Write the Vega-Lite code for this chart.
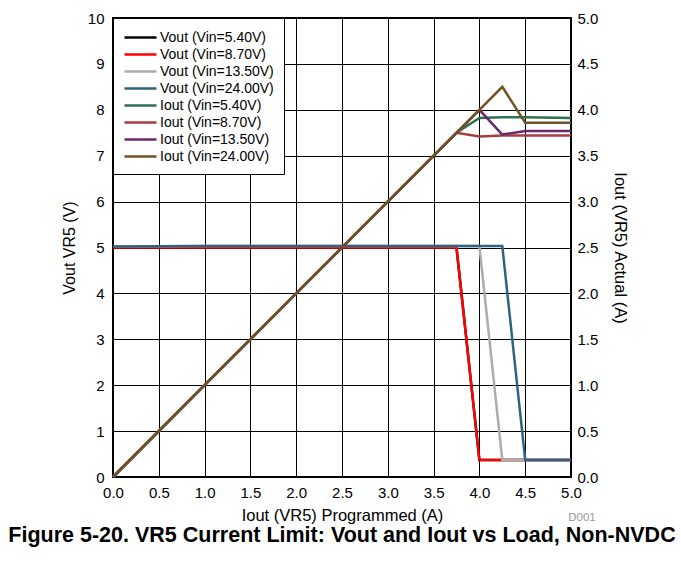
{
  "$schema": "https://vega.github.io/schema/vega-lite/v6.json",
  "width": 458,
  "height": 459,
  "autosize": {"type": "none"},
  "padding": {"left": 113, "top": 18, "right": 110, "bottom": 102},
  "background": "white",
  "config": {
    "font": "Liberation Sans",
    "view": {"stroke": "black", "strokeWidth": 2},
    "axis": {
      "grid": true, "gridColor": "black", "gridOpacity": 1, "gridWidth": 1,
      "domain": false, "ticks": false, "labelFlush": false,
      "labelFontSize": 15, "titleFontSize": 16.5,
      "labelColor": "black", "titleColor": "black", "titleFontWeight": "normal"
    },
    "line": {"strokeWidth": 2.5}
  },
  "title": {
    "text": "Figure 5-20. VR5 Current Limit: Vout and Iout vs Load, Non-NVDC",
    "orient": "bottom", "anchor": "middle", "fontSize": 21.5, "fontWeight": "bold",
    "offset": 1, "color": "black"
  },
  "datasets": {
    "v540": [
      {"x": 0, "v": 5.0, "series": "Vout (Vin=5.40V)"},
      {"x": 1, "v": 5.0, "series": "Vout (Vin=5.40V)"},
      {"x": 2, "v": 5.0, "series": "Vout (Vin=5.40V)"},
      {"x": 3, "v": 5.0, "series": "Vout (Vin=5.40V)"},
      {"x": 3.75, "v": 5.0, "series": "Vout (Vin=5.40V)"},
      {"x": 4.0, "v": 0.37, "series": "Vout (Vin=5.40V)"},
      {"x": 4.5, "v": 0.37, "series": "Vout (Vin=5.40V)"},
      {"x": 5.0, "v": 0.37, "series": "Vout (Vin=5.40V)"}
    ],
    "v870": [
      {"x": 0, "v": 5.0, "series": "Vout (Vin=8.70V)"},
      {"x": 1, "v": 5.0, "series": "Vout (Vin=8.70V)"},
      {"x": 2, "v": 5.0, "series": "Vout (Vin=8.70V)"},
      {"x": 3, "v": 5.0, "series": "Vout (Vin=8.70V)"},
      {"x": 3.75, "v": 5.0, "series": "Vout (Vin=8.70V)"},
      {"x": 4.0, "v": 0.37, "series": "Vout (Vin=8.70V)"},
      {"x": 4.5, "v": 0.37, "series": "Vout (Vin=8.70V)"},
      {"x": 5.0, "v": 0.37, "series": "Vout (Vin=8.70V)"}
    ],
    "v1350": [
      {"x": 0, "v": 5.02, "series": "Vout (Vin=13.50V)"},
      {"x": 1, "v": 5.03, "series": "Vout (Vin=13.50V)"},
      {"x": 2, "v": 5.03, "series": "Vout (Vin=13.50V)"},
      {"x": 3, "v": 5.03, "series": "Vout (Vin=13.50V)"},
      {"x": 4.0, "v": 5.03, "series": "Vout (Vin=13.50V)"},
      {"x": 4.25, "v": 0.37, "series": "Vout (Vin=13.50V)"},
      {"x": 4.5, "v": 0.37, "series": "Vout (Vin=13.50V)"},
      {"x": 5.0, "v": 0.37, "series": "Vout (Vin=13.50V)"}
    ],
    "v2400": [
      {"x": 0, "v": 5.02, "series": "Vout (Vin=24.00V)"},
      {"x": 1, "v": 5.03, "series": "Vout (Vin=24.00V)"},
      {"x": 2, "v": 5.03, "series": "Vout (Vin=24.00V)"},
      {"x": 3, "v": 5.03, "series": "Vout (Vin=24.00V)"},
      {"x": 4.0, "v": 5.03, "series": "Vout (Vin=24.00V)"},
      {"x": 4.25, "v": 5.03, "series": "Vout (Vin=24.00V)"},
      {"x": 4.5, "v": 0.37, "series": "Vout (Vin=24.00V)"},
      {"x": 5.0, "v": 0.37, "series": "Vout (Vin=24.00V)"}
    ],
    "i540": [
      {"x": 0, "i": 0, "series": "Iout (Vin=5.40V)"},
      {"x": 1, "i": 1, "series": "Iout (Vin=5.40V)"},
      {"x": 2, "i": 2, "series": "Iout (Vin=5.40V)"},
      {"x": 3, "i": 3, "series": "Iout (Vin=5.40V)"},
      {"x": 3.75, "i": 3.75, "series": "Iout (Vin=5.40V)"},
      {"x": 4.0, "i": 3.91, "series": "Iout (Vin=5.40V)"},
      {"x": 4.25, "i": 3.92, "series": "Iout (Vin=5.40V)"},
      {"x": 4.5, "i": 3.92, "series": "Iout (Vin=5.40V)"},
      {"x": 5.0, "i": 3.91, "series": "Iout (Vin=5.40V)"}
    ],
    "i870": [
      {"x": 0, "i": 0, "series": "Iout (Vin=8.70V)"},
      {"x": 1, "i": 1, "series": "Iout (Vin=8.70V)"},
      {"x": 2, "i": 2, "series": "Iout (Vin=8.70V)"},
      {"x": 3, "i": 3, "series": "Iout (Vin=8.70V)"},
      {"x": 3.75, "i": 3.75, "series": "Iout (Vin=8.70V)"},
      {"x": 4.0, "i": 3.71, "series": "Iout (Vin=8.70V)"},
      {"x": 4.25, "i": 3.72, "series": "Iout (Vin=8.70V)"},
      {"x": 4.5, "i": 3.72, "series": "Iout (Vin=8.70V)"},
      {"x": 5.0, "i": 3.72, "series": "Iout (Vin=8.70V)"}
    ],
    "i1350": [
      {"x": 0, "i": 0, "series": "Iout (Vin=13.50V)"},
      {"x": 1, "i": 1, "series": "Iout (Vin=13.50V)"},
      {"x": 2, "i": 2, "series": "Iout (Vin=13.50V)"},
      {"x": 3, "i": 3, "series": "Iout (Vin=13.50V)"},
      {"x": 4.0, "i": 4.0, "series": "Iout (Vin=13.50V)"},
      {"x": 4.25, "i": 3.73, "series": "Iout (Vin=13.50V)"},
      {"x": 4.5, "i": 3.77, "series": "Iout (Vin=13.50V)"},
      {"x": 5.0, "i": 3.77, "series": "Iout (Vin=13.50V)"}
    ],
    "i2400": [
      {"x": 0, "i": 0, "series": "Iout (Vin=24.00V)"},
      {"x": 1, "i": 1, "series": "Iout (Vin=24.00V)"},
      {"x": 2, "i": 2, "series": "Iout (Vin=24.00V)"},
      {"x": 3, "i": 3, "series": "Iout (Vin=24.00V)"},
      {"x": 4.0, "i": 4.0, "series": "Iout (Vin=24.00V)"},
      {"x": 4.25, "i": 4.25, "series": "Iout (Vin=24.00V)"},
      {"x": 4.5, "i": 3.86, "series": "Iout (Vin=24.00V)"},
      {"x": 5.0, "i": 3.86, "series": "Iout (Vin=24.00V)"}
    ],
    "note": [
      {"x": 5.12, "v": -0.9, "label": "D001"}
    ]
  },
  "layer": [
    {
      "encoding": {
        "x": {
          "field": "x", "type": "quantitative",
          "scale": {"domain": [0, 5], "nice": false},
          "axis": {"values": [0, 0.5, 1, 1.5, 2, 2.5, 3, 3.5, 4, 4.5, 5], "format": ".1f", "labelPadding": 8, "titlePadding": 7, "title": "Iout (VR5) Programmed (A)"}
        },
        "y": {
          "field": "v", "type": "quantitative",
          "scale": {"domain": [0, 10], "nice": false},
          "axis": {"orient": "left", "values": [0, 1, 2, 3, 4, 5, 6, 7, 8, 9, 10], "labelPadding": 9, "titlePadding": 10, "titleFontSize": 16, "title": "Vout VR5 (V)"}
        },
        "color": {
          "field": "series", "type": "nominal",
          "scale": {
            "domain": ["Vout (Vin=5.40V)", "Vout (Vin=8.70V)", "Vout (Vin=13.50V)", "Vout (Vin=24.00V)", "Iout (Vin=5.40V)", "Iout (Vin=8.70V)", "Iout (Vin=13.50V)", "Iout (Vin=24.00V)"],
            "range": ["#000000", "#ff0000", "#adadad", "#2f6480", "#2e7050", "#a83c40", "#6a2a68", "#6e5328"]
          },
          "legend": {
            "title": null, "orient": "top-left", "offset": 0, "padding": 10,
            "strokeColor": "black", "fillColor": "white",
            "symbolType": "M-1,0H3", "symbolSize": 256, "symbolStrokeWidth": 2.5,
            "labelFontSize": 14, "labelColor": "black", "labelOffset": 18, "rowPadding": -1,
            "encode": {"legend": {"update": {"strokeWidth": {"value": 2}}}}
          }
        }
      },
      "layer": [
        {"data": {"name": "v540"}, "mark": "line"},
        {"data": {"name": "v870"}, "mark": "line"},
        {"data": {"name": "v1350"}, "mark": "line"},
        {"data": {"name": "v2400"}, "mark": "line"},
        {
          "data": {"name": "note"},
          "mark": {"type": "text", "fontSize": 11.5, "baseline": "middle", "align": "center"},
          "encoding": {
            "text": {"field": "label"},
            "color": {"value": "#9a9a9a"}
          }
        }
      ]
    },
    {
      "encoding": {
        "x": {"field": "x", "type": "quantitative"},
        "y": {
          "field": "i", "type": "quantitative",
          "scale": {"domain": [0, 5], "nice": false},
          "axis": {"orient": "right", "grid": false, "values": [0, 0.5, 1, 1.5, 2, 2.5, 3, 3.5, 4, 4.5, 5], "format": ".1f", "labelPadding": 6, "titlePadding": 14, "title": "Iout (VR5) Actual (A)"}
        },
        "color": {"field": "series", "type": "nominal"}
      },
      "layer": [
        {"data": {"name": "i540"}, "mark": "line"},
        {"data": {"name": "i870"}, "mark": "line"},
        {"data": {"name": "i1350"}, "mark": "line"},
        {"data": {"name": "i2400"}, "mark": "line"}
      ]
    }
  ],
  "resolve": {"scale": {"y": "independent"}}
}
